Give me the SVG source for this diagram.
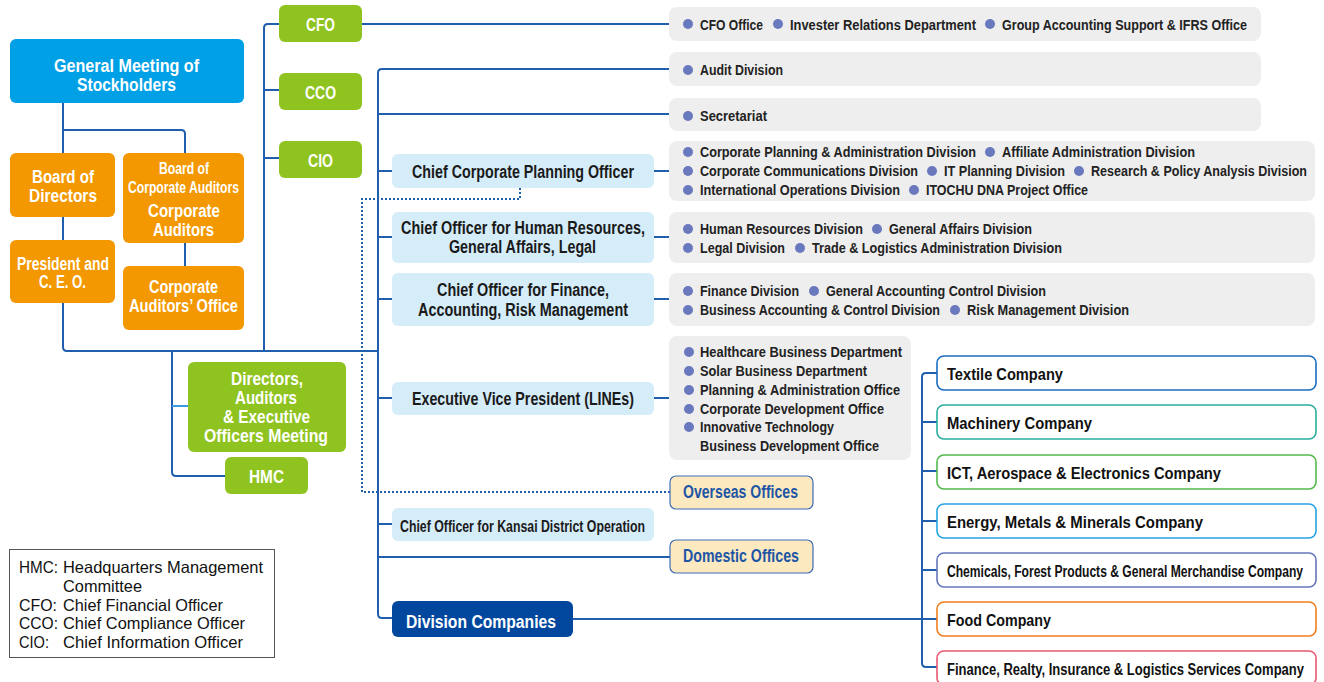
<svg xmlns="http://www.w3.org/2000/svg" width="1324" height="682" viewBox="0 0 1324 682">
  <style>
    text { font-family: "Liberation Sans", Arial, sans-serif; font-weight: bold; }
    .w { fill: #ffffff; font-size: 18px; }
    .ws { fill: #ffffff; font-size: 16px; }
    .dk { fill: #1a1a1a; font-size: 17.5px; }
    .li { fill: #222222; font-size: 14.5px; }
    .of { fill: #1d55a6; font-size: 17.5px; }
    .co { fill: #111111; font-size: 17px; }
    .lg { fill: #111111; font-size: 16.5px; font-weight: normal; }
    .gm { fill: #00a0e6; }
    .or { fill: #f39800; }
    .gr { fill: #8fc31f; }
    .lb { fill: #d5ecf9; }
    .gy { fill: #eeeeee; }
    .ofc { fill: #fde9bf; stroke: #3f6db4; stroke-width: 1.2; }
    .dv { fill: #00479d; }
    .cp { fill: #ffffff; stroke-width: 1.6; }
    .dot { fill: #6a78be; }
    .ln { fill: none; stroke: #1f5fae; stroke-width: 2; }
  </style>

  <!-- connectors -->
  <g id="connectors">
    <path class="ln" d="M63,103 V153 M63,130 H181 Q185,130 185,134 V153"/>
    <path class="ln" d="M63,217 V240"/>
    <path class="ln" d="M185,243 V266"/>
    <path class="ln" d="M63,303 V347 Q63,351 67,351 H378"/>
    <path class="ln" d="M279,24 H268 Q264,24 264,28 V351 M264,90 H279 M264,158 H279"/>
    <path class="ln" d="M362,24 H669"/>
    <path class="ln" d="M669,69 H382 Q378,69 378,73 V614 Q378,618 382,618 H392 M378,114 H669 M378,171 H392 M378,237 H392 M378,299 H392 M378,398 H392 M378,524 H392 M378,557 H670"/>
    <path class="ln" d="M654,171 H669 M654,237 H669 M654,299 H669 M654,398 H670"/>
    <path class="ln" d="M573,619 H922"/>
    <path class="ln" d="M937,373 H926 Q922,373 922,377 V663 Q922,667 926,667 H937 M922,422 H937 M922,471 H937 M922,521 H937 M922,570 H937 M922,619 H937"/>
    <path class="ln" d="M172,351 V472 Q172,476 176,476 H225"/>
    <path d="M172,406 H188" fill="none" stroke="#3a9ae0" stroke-width="2"/>
    <path class="ln" d="M520,188 V199 H362 V492 H670" stroke-dasharray="2 2"/>
  </g>

  <!-- governance -->
  <g id="general-meeting">
    <rect class="gm" x="10" y="39" width="234" height="64" rx="6"/>
    <text class="w" x="54" y="72" textLength="145" lengthAdjust="spacingAndGlyphs">General Meeting of</text>
    <text class="w" x="77" y="91" textLength="99" lengthAdjust="spacingAndGlyphs">Stockholders</text>
  </g>
  <g id="board-of-directors">
    <rect class="or" x="10" y="153" width="105" height="64" rx="6"/>
    <text class="w" x="32" y="183" textLength="62" lengthAdjust="spacingAndGlyphs">Board of</text>
    <text class="w" x="29" y="202" textLength="68" lengthAdjust="spacingAndGlyphs">Directors</text>
  </g>
  <g id="corporate-auditors">
    <rect class="or" x="123" y="153" width="121" height="90" rx="6"/>
    <text class="ws" x="159" y="174" textLength="50" lengthAdjust="spacingAndGlyphs">Board of</text>
    <text class="ws" x="128" y="193" textLength="111" lengthAdjust="spacingAndGlyphs">Corporate Auditors</text>
    <text class="w" x="148" y="217" textLength="72" lengthAdjust="spacingAndGlyphs">Corporate</text>
    <text class="w" x="153" y="236" textLength="61" lengthAdjust="spacingAndGlyphs">Auditors</text>
  </g>
  <g id="president-ceo">
    <rect class="or" x="10" y="240" width="105" height="63" rx="6"/>
    <text class="w" x="17" y="270" textLength="92" lengthAdjust="spacingAndGlyphs">President and</text>
    <text class="w" x="39" y="288" textLength="47" lengthAdjust="spacingAndGlyphs">C. E. O.</text>
  </g>
  <g id="corporate-auditors-office">
    <rect class="or" x="123" y="266" width="121" height="64" rx="6"/>
    <text class="w" x="149" y="293" textLength="69" lengthAdjust="spacingAndGlyphs">Corporate</text>
    <text class="w" x="129" y="312" textLength="109" lengthAdjust="spacingAndGlyphs">Auditors’ Office</text>
  </g>
  <g id="cfo">
    <rect class="gr" x="279" y="5" width="83" height="37" rx="6"/>
    <text class="w" x="306" y="31" textLength="29" lengthAdjust="spacingAndGlyphs">CFO</text>
  </g>
  <g id="cco">
    <rect class="gr" x="279" y="73" width="83" height="37" rx="6"/>
    <text class="w" x="305" y="99" textLength="31" lengthAdjust="spacingAndGlyphs">CCO</text>
  </g>
  <g id="cio">
    <rect class="gr" x="279" y="141" width="83" height="37" rx="6"/>
    <text class="w" x="308" y="167" textLength="25" lengthAdjust="spacingAndGlyphs">CIO</text>
  </g>
  <g id="officers-meeting">
    <rect class="gr" x="188" y="362" width="158" height="90" rx="6"/>
    <text class="w" x="231" y="385" textLength="72" lengthAdjust="spacingAndGlyphs">Directors,</text>
    <text class="w" x="235" y="404" textLength="62" lengthAdjust="spacingAndGlyphs">Auditors</text>
    <text class="w" x="223" y="423" textLength="87" lengthAdjust="spacingAndGlyphs">&amp; Executive</text>
    <text class="w" x="204" y="442" textLength="124" lengthAdjust="spacingAndGlyphs">Officers Meeting</text>
  </g>
  <g id="hmc">
    <rect class="gr" x="225" y="457" width="83" height="37" rx="6"/>
    <text class="w" x="249" y="483" textLength="35" lengthAdjust="spacingAndGlyphs">HMC</text>
  </g>

  <!-- staff lists -->
  <g id="cfo-units">
    <rect class="gy" x="669" y="7" width="592" height="34" rx="8"/>
    <circle class="dot" cx="688" cy="24" r="5"/>
    <text class="li" x="700" y="30" textLength="63" lengthAdjust="spacingAndGlyphs">CFO Office</text>
    <circle class="dot" cx="778" cy="24" r="5"/>
    <text class="li" x="790" y="30" textLength="186" lengthAdjust="spacingAndGlyphs">Invester Relations Department</text>
    <circle class="dot" cx="990" cy="24" r="5"/>
    <text class="li" x="1002" y="30" textLength="245" lengthAdjust="spacingAndGlyphs">Group Accounting Support &amp; IFRS Office</text>
  </g>
  <g id="audit-division">
    <rect class="gy" x="669" y="52" width="592" height="34" rx="8"/>
    <circle class="dot" cx="688" cy="70" r="5"/>
    <text class="li" x="700" y="75" textLength="83" lengthAdjust="spacingAndGlyphs">Audit Division</text>
  </g>
  <g id="secretariat">
    <rect class="gy" x="669" y="98" width="592" height="33" rx="8"/>
    <circle class="dot" cx="688" cy="116" r="5"/>
    <text class="li" x="700" y="121" textLength="67" lengthAdjust="spacingAndGlyphs">Secretariat</text>
  </g>
  <g id="corporate-planning-units">
    <rect class="gy" x="669" y="141" width="646" height="60" rx="8"/>
    <circle class="dot" cx="688" cy="152" r="5"/>
    <text class="li" x="700" y="157" textLength="276" lengthAdjust="spacingAndGlyphs">Corporate Planning &amp; Administration Division</text>
    <circle class="dot" cx="990" cy="152" r="5"/>
    <text class="li" x="1002" y="157" textLength="193" lengthAdjust="spacingAndGlyphs">Affiliate Administration Division</text>
    <circle class="dot" cx="688" cy="171" r="5"/>
    <text class="li" x="700" y="176" textLength="218" lengthAdjust="spacingAndGlyphs">Corporate Communications Division</text>
    <circle class="dot" cx="932" cy="171" r="5"/>
    <text class="li" x="944" y="176" textLength="121" lengthAdjust="spacingAndGlyphs">IT Planning Division</text>
    <circle class="dot" cx="1079" cy="171" r="5"/>
    <text class="li" x="1091" y="176" textLength="216" lengthAdjust="spacingAndGlyphs">Research &amp; Policy Analysis Division</text>
    <circle class="dot" cx="688" cy="190" r="5"/>
    <text class="li" x="700" y="195" textLength="200" lengthAdjust="spacingAndGlyphs">International Operations Division</text>
    <circle class="dot" cx="914" cy="190" r="5"/>
    <text class="li" x="926" y="195" textLength="162" lengthAdjust="spacingAndGlyphs">ITOCHU DNA Project Office</text>
  </g>
  <g id="hr-units">
    <rect class="gy" x="669" y="212" width="646" height="51" rx="8"/>
    <circle class="dot" cx="688" cy="229" r="5"/>
    <text class="li" x="700" y="234" textLength="163" lengthAdjust="spacingAndGlyphs">Human Resources Division</text>
    <circle class="dot" cx="877" cy="229" r="5"/>
    <text class="li" x="889" y="234" textLength="143" lengthAdjust="spacingAndGlyphs">General Affairs Division</text>
    <circle class="dot" cx="688" cy="248" r="5"/>
    <text class="li" x="700" y="253" textLength="85" lengthAdjust="spacingAndGlyphs">Legal Division</text>
    <circle class="dot" cx="800" cy="248" r="5"/>
    <text class="li" x="812" y="253" textLength="250" lengthAdjust="spacingAndGlyphs">Trade &amp; Logistics Administration Division</text>
  </g>
  <g id="finance-units">
    <rect class="gy" x="669" y="273" width="646" height="53" rx="8"/>
    <circle class="dot" cx="688" cy="291" r="5"/>
    <text class="li" x="700" y="296" textLength="99" lengthAdjust="spacingAndGlyphs">Finance Division</text>
    <circle class="dot" cx="814" cy="291" r="5"/>
    <text class="li" x="826" y="296" textLength="220" lengthAdjust="spacingAndGlyphs">General Accounting Control Division</text>
    <circle class="dot" cx="688" cy="310" r="5"/>
    <text class="li" x="700" y="315" textLength="240" lengthAdjust="spacingAndGlyphs">Business Accounting &amp; Control Division</text>
    <circle class="dot" cx="955" cy="310" r="5"/>
    <text class="li" x="967" y="315" textLength="162" lengthAdjust="spacingAndGlyphs">Risk Management Division</text>
  </g>
  <g id="evp-units">
    <rect class="gy" x="669" y="336" width="242" height="124" rx="8"/>
    <circle class="dot" cx="689" cy="352" r="5"/>
    <text class="li" x="700" y="357" textLength="202" lengthAdjust="spacingAndGlyphs">Healthcare Business Department</text>
    <circle class="dot" cx="689" cy="371" r="5"/>
    <text class="li" x="700" y="376" textLength="167" lengthAdjust="spacingAndGlyphs">Solar Business Department</text>
    <circle class="dot" cx="689" cy="390" r="5"/>
    <text class="li" x="700" y="395" textLength="200" lengthAdjust="spacingAndGlyphs">Planning &amp; Administration Office</text>
    <circle class="dot" cx="689" cy="409" r="5"/>
    <text class="li" x="700" y="414" textLength="184" lengthAdjust="spacingAndGlyphs">Corporate Development Office</text>
    <circle class="dot" cx="689" cy="427" r="5"/>
    <text class="li" x="700" y="432" textLength="134" lengthAdjust="spacingAndGlyphs">Innovative Technology</text>
    <text class="li" x="700" y="451" textLength="179" lengthAdjust="spacingAndGlyphs">Business Development Office</text>
  </g>

  <!-- executive officers -->
  <g id="chief-corporate-planning">
    <rect class="lb" x="392" y="154" width="262" height="34" rx="6"/>
    <text class="dk" x="412" y="178" textLength="222" lengthAdjust="spacingAndGlyphs">Chief Corporate Planning Officer</text>
  </g>
  <g id="chief-hr">
    <rect class="lb" x="392" y="212" width="262" height="51" rx="6"/>
    <text class="dk" x="401" y="234" textLength="244" lengthAdjust="spacingAndGlyphs">Chief Officer for Human Resources,</text>
    <text class="dk" x="449" y="253" textLength="147" lengthAdjust="spacingAndGlyphs">General Affairs, Legal</text>
  </g>
  <g id="chief-finance">
    <rect class="lb" x="392" y="273" width="262" height="53" rx="6"/>
    <text class="dk" x="437" y="296" textLength="172" lengthAdjust="spacingAndGlyphs">Chief Officer for Finance,</text>
    <text class="dk" x="418" y="316" textLength="210" lengthAdjust="spacingAndGlyphs">Accounting, Risk Management</text>
  </g>
  <g id="evp">
    <rect class="lb" x="392" y="382" width="262" height="33" rx="6"/>
    <text class="dk" x="412" y="405" textLength="222" lengthAdjust="spacingAndGlyphs">Executive Vice President (LINEs)</text>
  </g>
  <g id="chief-kansai">
    <rect class="lb" x="392" y="508" width="262" height="33" rx="6"/>
    <text class="dk" x="400" y="532" style="font-size:16px" textLength="245" lengthAdjust="spacingAndGlyphs">Chief Officer for Kansai District Operation</text>
  </g>
  <g id="overseas-offices">
    <rect class="ofc" x="670" y="476" width="143" height="33" rx="6"/>
    <text class="of" x="683" y="498" textLength="115" lengthAdjust="spacingAndGlyphs">Overseas Offices</text>
  </g>
  <g id="domestic-offices">
    <rect class="ofc" x="670" y="540" width="143" height="33" rx="6"/>
    <text class="of" x="683" y="562" textLength="116" lengthAdjust="spacingAndGlyphs">Domestic Offices</text>
  </g>
  <g id="division-companies">
    <rect class="dv" x="392" y="601" width="181" height="36" rx="6"/>
    <text class="w" x="406" y="628" style="font-size:19px" textLength="150" lengthAdjust="spacingAndGlyphs">Division Companies</text>
  </g>

  <!-- division companies -->
  <g id="textile">
    <rect class="cp" x="937" y="356" width="379" height="34" rx="7" stroke="#1a6dbf"/>
    <text class="co" x="947" y="380" textLength="116" lengthAdjust="spacingAndGlyphs">Textile Company</text>
  </g>
  <g id="machinery">
    <rect class="cp" x="937" y="405" width="379" height="34" rx="7" stroke="#27ad9e"/>
    <text class="co" x="947" y="429" textLength="145" lengthAdjust="spacingAndGlyphs">Machinery Company</text>
  </g>
  <g id="ict">
    <rect class="cp" x="937" y="455" width="379" height="34" rx="7" stroke="#52b94a"/>
    <text class="co" x="947" y="479" textLength="274" lengthAdjust="spacingAndGlyphs">ICT, Aerospace &amp; Electronics Company</text>
  </g>
  <g id="energy">
    <rect class="cp" x="937" y="504" width="379" height="34" rx="7" stroke="#27a3e3"/>
    <text class="co" x="947" y="528" textLength="256" lengthAdjust="spacingAndGlyphs">Energy, Metals &amp; Minerals Company</text>
  </g>
  <g id="chemicals">
    <rect class="cp" x="937" y="553" width="379" height="34" rx="7" stroke="#6576bd"/>
    <text class="co" x="947" y="577" style="font-size:16px" textLength="356" lengthAdjust="spacingAndGlyphs">Chemicals, Forest Products &amp; General Merchandise Company</text>
  </g>
  <g id="food">
    <rect class="cp" x="937" y="602" width="379" height="34" rx="7" stroke="#ef7d1e"/>
    <text class="co" x="947" y="626" textLength="104" lengthAdjust="spacingAndGlyphs">Food Company</text>
  </g>
  <g id="finance-realty">
    <rect class="cp" x="937" y="651" width="379" height="34" rx="7" stroke="#e85a72"/>
    <text class="co" x="947" y="675" style="font-size:16px" textLength="357" lengthAdjust="spacingAndGlyphs">Finance, Realty, Insurance &amp; Logistics Services Company</text>
  </g>

  <!-- abbreviations -->
  <g id="legend">
    <rect x="9.5" y="549.5" width="265" height="108" fill="#ffffff" stroke="#555555" stroke-width="1"/>
    <text class="lg" x="19" y="573" textLength="39" lengthAdjust="spacingAndGlyphs">HMC:</text>
    <text class="lg" x="63" y="573" textLength="200" lengthAdjust="spacingAndGlyphs">Headquarters Management</text>
    <text class="lg" x="63" y="592" textLength="79" lengthAdjust="spacingAndGlyphs">Committee</text>
    <text class="lg" x="19" y="611" textLength="38" lengthAdjust="spacingAndGlyphs">CFO:</text>
    <text class="lg" x="63" y="611" textLength="160" lengthAdjust="spacingAndGlyphs">Chief Financial Officer</text>
    <text class="lg" x="19" y="629" textLength="39" lengthAdjust="spacingAndGlyphs">CCO:</text>
    <text class="lg" x="63" y="629" textLength="182" lengthAdjust="spacingAndGlyphs">Chief Compliance Officer</text>
    <text class="lg" x="19" y="648" textLength="30" lengthAdjust="spacingAndGlyphs">CIO:</text>
    <text class="lg" x="63" y="648" textLength="180" lengthAdjust="spacingAndGlyphs">Chief Information Officer</text>
  </g>
</svg>
